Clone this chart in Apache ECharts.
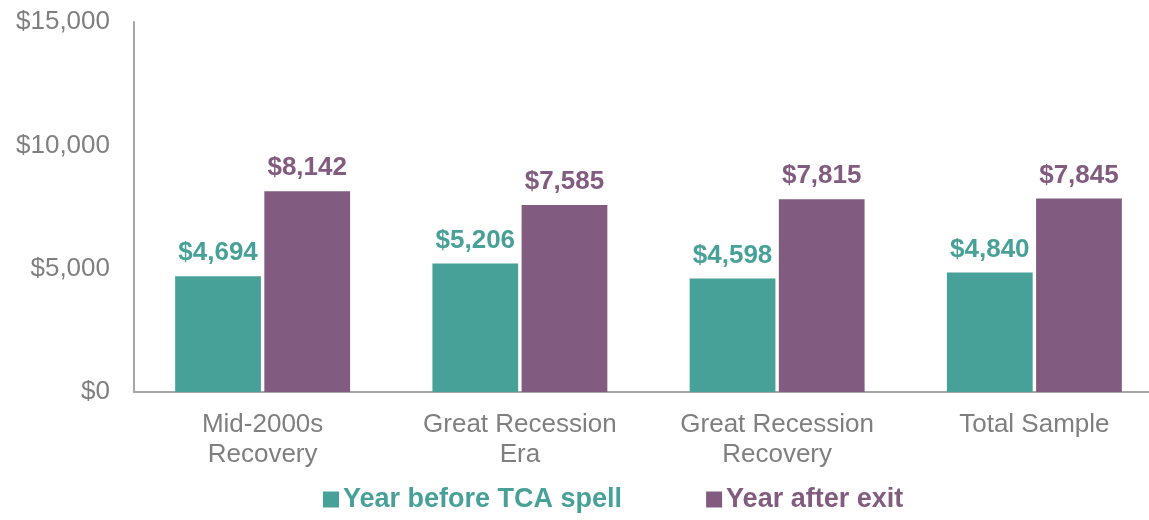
<!DOCTYPE html>
<html>
<head>
<meta charset="utf-8">
<script src="https://cdn.jsdelivr.net/npm/echarts@6/dist/echarts.min.js"></script>
<style>
  html, body { margin: 0; padding: 0; background: #fff; }
  #chart { width: 1149px; height: 520px; }
</style>
</head>
<body>
<div id="chart"></div>
<script>
  // 数据
  var categories = ['Mid-2000s\nRecovery', 'Great Recession\nEra', 'Great Recession\nRecovery', 'Total Sample'];
  var seriesNames = ['Year before TCA spell', 'Year after exit'];
  var beforeValues = [4694, 5206, 4598, 4840];
  var afterValues = [8142, 7585, 7815, 7845];
  var yTicks = [0, 5000, 10000, 15000];

  var teal = '#48a199';
  var purple = '#825c80';
  var gray = '#7f7f7f';

  function money(v) {
    return '$' + v.toLocaleString('en-US');
  }

  var myChart = echarts.init(document.getElementById('chart'));
  myChart.setOption({
    animation: false,
    textStyle: { fontFamily: 'Liberation Sans, Arial, sans-serif' },
    grid: {
      left: 134,
      top: 22,
      right: -14,
      bottom: 128,
      containLabel: false,
      outerBoundsMode: 'none'
    },
    legend: {
      bottom: 2,
      left: 318,
      itemWidth: 16,
      itemHeight: 16,
      itemGap: 84,
      icon: 'rect',
      textStyle: { fontSize: 27, fontWeight: 'bold', padding: [0, 0, 0, -1] },
      data: [
        { name: seriesNames[0], textStyle: { color: teal } },
        { name: seriesNames[1], textStyle: { color: purple } }
      ]
    },
    xAxis: {
      type: 'category',
      data: categories,
      axisLine: { lineStyle: { color: '#a6a6a6', width: 2 } },
      axisTick: { show: false },
      axisLabel: {
        color: gray,
        fontSize: 26,
        lineHeight: 30,
        margin: 18
      }
    },
    yAxis: {
      type: 'value',
      min: yTicks[0],
      max: yTicks[yTicks.length - 1],
      interval: 5000,
      axisLine: { show: true, lineStyle: { color: '#a6a6a6', width: 2 } },
      axisTick: { show: false },
      splitLine: { show: false },
      axisLabel: {
        color: gray,
        fontSize: 26,
        margin: 24,
        formatter: function (v) { return money(v); }
      }
    },
    series: [
      {
        name: seriesNames[0],
        type: 'bar',
        data: beforeValues,
        barGap: '4%',
        barCategoryGap: '32%',
        itemStyle: { color: teal },
        label: {
          show: true,
          position: 'top',
          distance: 10,
          color: teal,
          fontSize: 26,
          fontWeight: 'bold',
          formatter: function (p) { return money(p.value); }
        }
      },
      {
        name: seriesNames[1],
        type: 'bar',
        data: afterValues,
        barGap: '4%',
        barCategoryGap: '32%',
        itemStyle: { color: purple },
        label: {
          show: true,
          position: 'top',
          distance: 10,
          color: purple,
          fontSize: 26,
          fontWeight: 'bold',
          formatter: function (p) { return money(p.value); }
        }
      }
    ]
  });
  window.addEventListener('resize', myChart.resize);
</script>
</body>
</html>
